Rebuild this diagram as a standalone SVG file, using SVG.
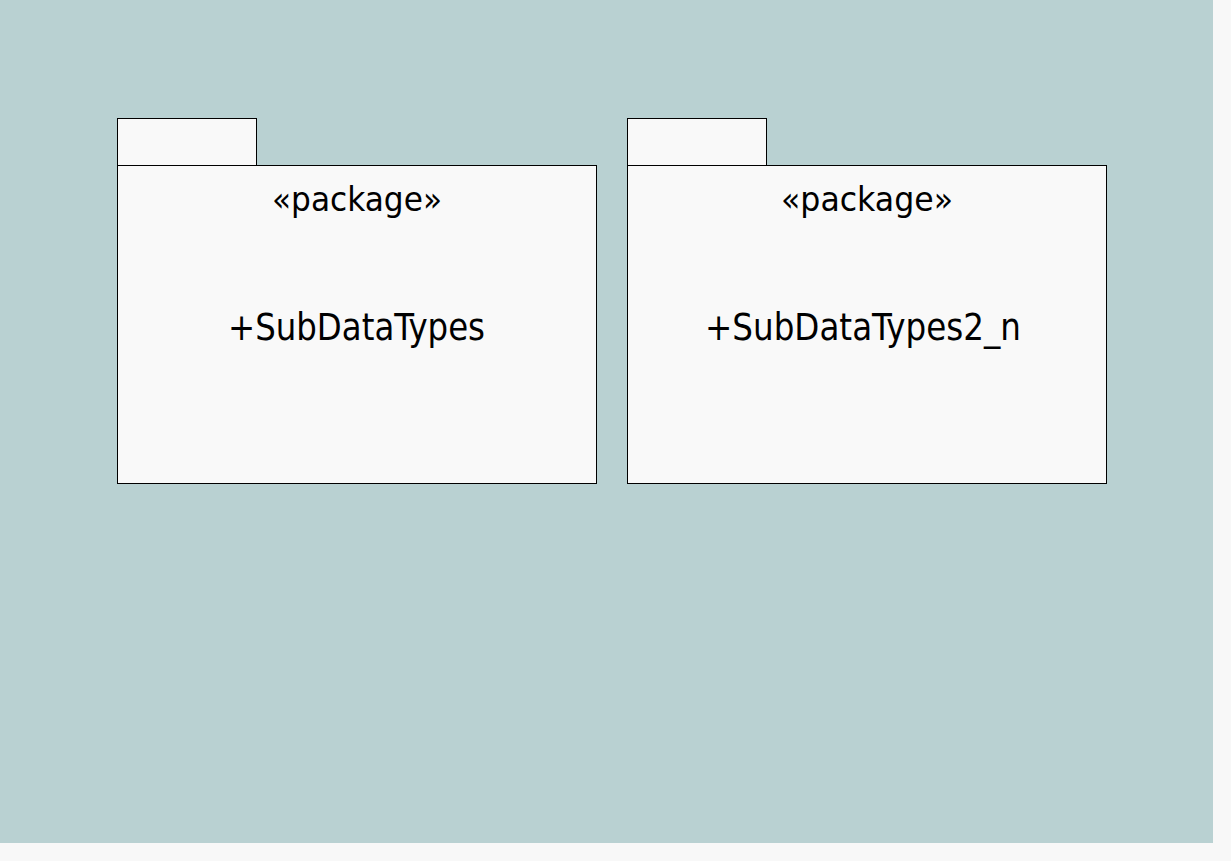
<svg xmlns="http://www.w3.org/2000/svg" width="1231" height="861" viewBox="0 0 1231 861">
<style>
.box{fill:#f9f9f9;stroke:#000;stroke-width:1}
.t{font-family:"DejaVu Sans Condensed","DejaVu Sans",sans-serif;fill:#000}
.st{font-size:33px}
.nm{font-size:37px}
</style>
<rect x="0" y="0" width="1231" height="861" fill="#f8f8f8"/>
<rect x="0" y="0" width="1213" height="843" fill="#b9d1d2"/>
<g id="pkg1">
<rect class="box" x="117.5" y="118.5" width="139" height="47"/>
<rect class="box" x="117.5" y="165.5" width="479" height="318"/>
<text class="t st" x="272" y="211" textLength="170" lengthAdjust="spacingAndGlyphs">«package»</text>
<text class="t nm" x="228" y="340" textLength="257" lengthAdjust="spacingAndGlyphs">+SubDataTypes</text>
</g>
<g id="pkg2">
<rect class="box" x="627.5" y="118.5" width="139" height="47"/>
<rect class="box" x="627.5" y="165.5" width="479" height="318"/>
<text class="t st" x="781" y="211" textLength="172" lengthAdjust="spacingAndGlyphs">«package»</text>
<text class="t nm" x="705" y="340" textLength="316" lengthAdjust="spacingAndGlyphs">+SubDataTypes2_n</text>
</g>
<g id="connectors"/>
</svg>
